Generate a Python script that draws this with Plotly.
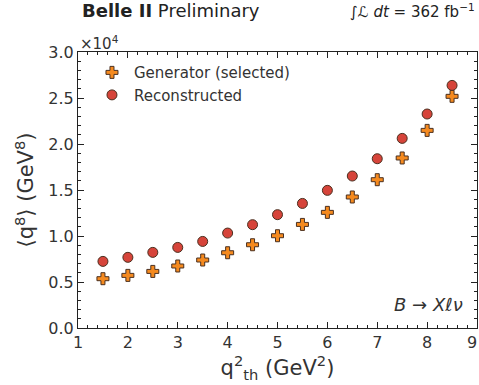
import plotly.graph_objects as go

q2_thresholds = [1.5, 2.0, 2.5, 3.0, 3.5, 4.0, 4.5, 5.0, 5.5, 6.0, 6.5, 7.0, 7.5, 8.0, 8.5]
generator_selected = [0.536, 0.572, 0.615, 0.674, 0.739, 0.818, 0.905, 1.003, 1.126, 1.257,
                      1.424, 1.612, 1.848, 2.148, 2.518]  # x 1e4 GeV^8
reconstructed = [0.724, 0.768, 0.822, 0.876, 0.941, 1.032, 1.123, 1.232, 1.354, 1.496,
                 1.652, 1.840, 2.061, 2.326, 2.637]  # x 1e4 GeV^8

FONT = "DejaVu Sans"
TXT = "#333333"

fig = go.Figure()
fig.add_trace(go.Scatter(
    x=q2_thresholds, y=generator_selected, mode="markers", name="Generator (selected)",
    marker=dict(symbol="cross", size=10, color="#f58a1f", line=dict(color="#4a3020", width=1)),
))
fig.add_trace(go.Scatter(
    x=q2_thresholds, y=reconstructed, mode="markers", name="Reconstructed",
    marker=dict(symbol="circle", size=10, color="#d6443a", line=dict(color="#4a3020", width=1)),
))

axis_common = dict(
    showgrid=False, zeroline=False, showline=True, linecolor="#222222", linewidth=1.2,
    mirror="ticks", ticks="inside", ticklen=6, tickwidth=1, tickcolor="#222222",
    tickfont=dict(family=FONT, size=16, color=TXT),
)
fig.update_xaxes(
    range=[1, 9], dtick=1, tick0=1,
    minor=dict(dtick=0.2, ticks="inside", ticklen=3, tickcolor="#222222", showgrid=False),
    title=dict(text="q<sup>2</sup><sub>th</sub> (GeV<sup>2</sup>)", font=dict(family=FONT, size=21, color=TXT), standoff=6),
    **axis_common,
)
fig.update_yaxes(
    range=[0, 3.0], dtick=0.5, tick0=0, tickformat=".1f",
    minor=dict(dtick=0.1, ticks="inside", ticklen=3, tickcolor="#222222", showgrid=False),
    title=dict(text="⟨q<sup>8</sup>⟩ (GeV<sup>8</sup>)", font=dict(family=FONT, size=21, color=TXT), standoff=8),
    **axis_common,
)

fig.update_layout(
    width=479, height=385,
    margin=dict(l=78, r=2, t=52, b=57),
    paper_bgcolor="white", plot_bgcolor="white",
    font=dict(family=FONT, color=TXT),
    legend=dict(x=0.03, y=0.985, xanchor="left", yanchor="top", bgcolor="rgba(0,0,0,0)",
                font=dict(family=FONT, size=15, color=TXT), itemwidth=34, tracegroupgap=2),
    showlegend=True,
)

# last x tick label sits at the right edge of the figure
fig.add_annotation(x=9, y=0, xref="x", yref="paper", xanchor="center", yanchor="top",
                   yshift=-3, xshift=-5, showarrow=False, text="9",
                   font=dict(family=FONT, size=16, color=TXT))
fig.add_annotation(x=0, y=1, xref="paper", yref="paper", xanchor="left", yanchor="bottom",
                   yshift=-3, showarrow=False, text="×10<sup>4</sup>",
                   font=dict(family=FONT, size=15, color=TXT))
fig.add_annotation(x=0.005, y=1.105, xref="paper", yref="paper", xanchor="left", yanchor="bottom",
                   showarrow=False, text="<b>Belle II</b> Preliminary",
                   font=dict(family=FONT, size=18, color="#222222"))
fig.add_annotation(x=1.0, y=1.105, xref="paper", yref="paper", xanchor="right", yanchor="bottom",
                   showarrow=False, text="∫<i>ℒ dt</i> = 362 fb<sup>−1</sup>",
                   font=dict(family=FONT, size=15, color="#222222"))
fig.add_annotation(x=0.97, y=0.04, xref="paper", yref="paper", xanchor="right", yanchor="bottom",
                   showarrow=False, text="<i>B</i> → <i>Xℓν</i>",
                   font=dict(family=FONT, size=18, color=TXT))

fig.write_html("out.html")
